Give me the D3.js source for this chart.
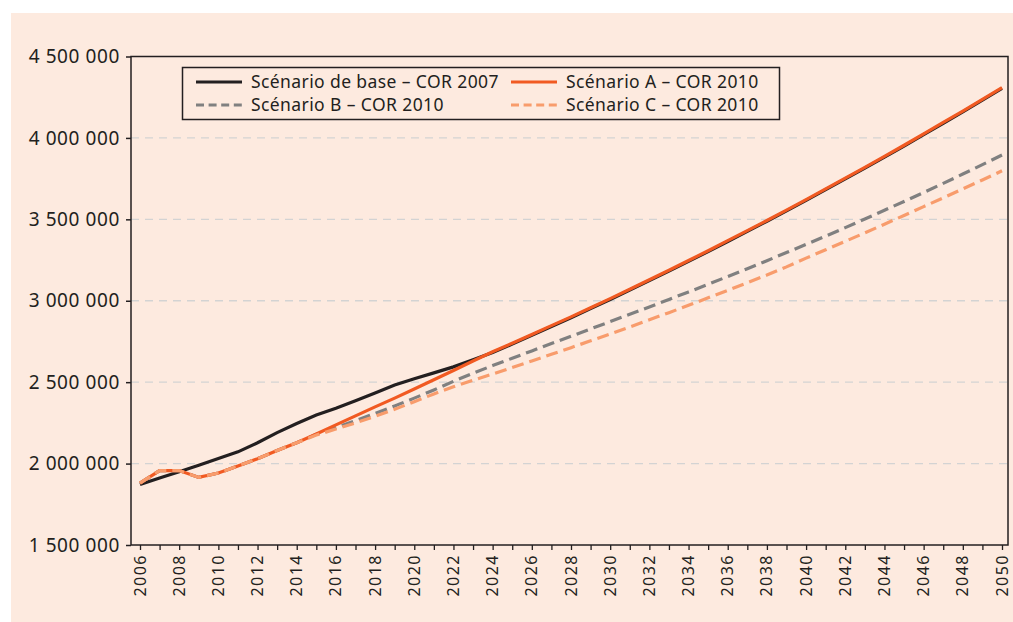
<!DOCTYPE html>
<html>
<head>
<meta charset="utf-8">
<script src="https://cdn.jsdelivr.net/npm/d3@7"></script>
<style>
  body { margin: 0; background: #fff; }
  svg { display: block; }
  text { font-family: "Noto Sans", "Open Sans", sans-serif; fill: #231f20; }
</style>
</head>
<body>
<svg id="chart" width="1013" height="622"></svg>
<script>
// years on the x axis
var years = d3.range(2006, 2051);

// values (number of people)
var baseCor2007 = [
  1871000, 1912000, 1950000, 1990000, 2031000, 2072000, 2128000, 2190000, 2246000, 2298000,
  2340000, 2386000, 2434000, 2482000, 2521000, 2557000, 2594000, 2638000, 2682000, 2734000,
  2788000, 2842000, 2896000, 2952000, 3008000, 3066000, 3124000, 3182000, 3242000, 3302000,
  3364000, 3426000, 3488000, 3552000, 3616000, 3682000, 3748000, 3814000, 3882000, 3950000,
  4020000, 4090000, 4160000, 4232000, 4304000
];
var scenarioA = [
  1880000, 1957000, 1957000, 1915000, 1942000, 1985000, 2030000, 2080000, 2128000, 2182000,
  2238000, 2293000, 2348000, 2402000, 2458000, 2515000, 2572000, 2630000, 2687000, 2739000,
  2793000, 2847000, 2901000, 2957000, 3013000, 3071000, 3129000, 3187000, 3247000, 3307000,
  3369000, 3431000, 3493000, 3557000, 3621000, 3687000, 3753000, 3819000, 3887000, 3955000,
  4025000, 4095000, 4165000, 4237000, 4309000
];
var scenarioB = [
  1880000, 1957000, 1957000, 1915000, 1942000, 1985000, 2030000, 2080000, 2128000, 2180000,
  2222000, 2264000, 2308000, 2354000, 2402000, 2452000, 2505000, 2555000, 2602000, 2647000,
  2692000, 2737000, 2782000, 2827000, 2872000, 2917000, 2962000, 3008000, 3054000, 3101000,
  3149000, 3197000, 3246000, 3296000, 3346000, 3397000, 3449000, 3502000, 3556000, 3610000,
  3665000, 3721000, 3778000, 3836000, 3895000
];
var scenarioC = [
  1880000, 1957000, 1957000, 1915000, 1942000, 1985000, 2030000, 2080000, 2128000, 2175000,
  2212000, 2250000, 2290000, 2334000, 2380000, 2428000, 2472000, 2512000, 2550000, 2590000,
  2630000, 2671000, 2712000, 2754000, 2796000, 2839000, 2883000, 2927000, 2972000, 3018000,
  3064000, 3111000, 3158000, 3208000, 3262000, 3313000, 3365000, 3417000, 3470000, 3524000,
  3578000, 3632000, 3687000, 3742000, 3798000
];

var yTicks = [1500000, 2000000, 2500000, 3000000, 3500000, 4000000, 4500000];
var xLabelYears = d3.range(2006, 2051, 2);

var series = [
  { name: 'Scénario de base – COR 2007', values: baseCor2007, color: '#231f20', dash: null },
  { name: 'Scénario B – COR 2010', values: scenarioB, color: '#808080', dash: '12,6' },
  { name: 'Scénario A – COR 2010', values: scenarioA, color: '#f15a22', dash: null },
  { name: 'Scénario C – COR 2010', values: scenarioC, color: '#f89c6c', dash: '12,6' }
];

var svg = d3.select('#chart');

// peach panel
svg.append('rect')
  .attr('x', 11).attr('y', 13)
  .attr('width', 1002).attr('height', 609)
  .attr('fill', '#fdeadf');

var frame = { left: 131, right: 1008, top: 56.5, bottom: 545 };

var x = d3.scaleLinear().domain([2006, 2050]).range([140, 1002]);
var y = d3.scaleLinear().domain([1500000, 4500000]).range([frame.bottom, frame.top]);

// grid
svg.append('g')
  .selectAll('line')
  .data(yTicks.slice(1, -1))
  .enter().append('line')
    .attr('x1', frame.left).attr('x2', frame.right)
    .attr('y1', function(d) { return y(d); })
    .attr('y2', function(d) { return y(d); })
    .attr('stroke', '#d3d3d3')
    .attr('stroke-width', 1.3)
    .attr('stroke-dasharray', '8,6');

// series
var line = d3.line()
  .x(function(d, i) { return x(years[i]); })
  .y(function(d) { return y(d); });

svg.append('g')
  .selectAll('path')
  .data(series)
  .enter().append('path')
    .attr('d', function(s) { return line(s.values); })
    .attr('fill', 'none')
    .attr('stroke', function(s) { return s.color; })
    .attr('stroke-width', 3.2)
    .attr('stroke-dasharray', function(s) { return s.dash; });

// frame
svg.append('rect')
  .attr('x', frame.left).attr('y', frame.top)
  .attr('width', frame.right - frame.left)
  .attr('height', frame.bottom - frame.top)
  .attr('fill', 'none')
  .attr('stroke', '#231f20')
  .attr('stroke-width', 1.5);

// y axis
var fmt = function(d) { return d3.format(',')(d).replace(/,/g, ' '); };
var yAxis = d3.axisLeft(y).tickValues(yTicks).tickSize(5).tickPadding(6).tickFormat(fmt);
var gy = svg.append('g')
  .attr('transform', 'translate(' + frame.left + ',0)')
  .call(yAxis);
gy.select('.domain').remove();
gy.selectAll('line').attr('stroke', '#231f20').attr('stroke-width', 1.5);
gy.selectAll('text').attr('font-size', 19).attr('letter-spacing', 0.6);

// x axis
var xAxis = d3.axisBottom(x).tickValues(years).tickSize(5).tickFormat('');
var gx = svg.append('g')
  .attr('transform', 'translate(0,' + frame.bottom + ')')
  .call(xAxis);
gx.select('.domain').remove();
gx.selectAll('line').attr('stroke', '#231f20').attr('stroke-width', 1.3);

svg.append('g')
  .selectAll('text')
  .data(xLabelYears)
  .enter().append('text')
    .attr('transform', function(d) { return 'translate(' + (x(d) + 5.5) + ',' + (frame.bottom + 9) + ') rotate(-90)'; })
    .attr('text-anchor', 'end')
    .attr('font-size', 16)
    .attr('letter-spacing', 1.5)
    .text(function(d) { return d; });

// legend
var legend = svg.append('g');
legend.append('rect')
  .attr('x', 182.5).attr('y', 67.5)
  .attr('width', 597).attr('height', 52)
  .attr('fill', 'none')
  .attr('stroke', '#231f20')
  .attr('stroke-width', 1.5);

var legendOrder = [series[0], series[2], series[1], series[3]];
var items = legend.selectAll('g.item')
  .data(legendOrder)
  .enter().append('g')
    .attr('class', 'item')
    .attr('transform', function(d, i) {
      return 'translate(' + (i % 2 === 0 ? 196 : 511) + ',' + (i < 2 ? 82 : 105) + ')';
    });

items.append('line')
  .attr('x1', 0).attr('x2', 46)
  .attr('stroke', function(s) { return s.color; })
  .attr('stroke-width', 3)
  .attr('stroke-dasharray', function(s) { return s.dash ? '8,4.6' : null; });

items.append('text')
  .attr('x', 55).attr('dy', '0.35em')
  .attr('font-size', 17.5)
  .attr('letter-spacing', 0.4)
  .text(function(s) { return s.name; });
</script>
</body>
</html>
